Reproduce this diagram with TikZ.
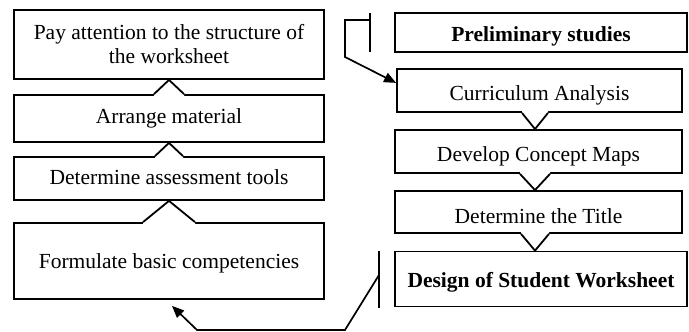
\documentclass[tikz,border=0pt]{standalone}
\usepackage{fontspec}
\setmainfont{Liberation Serif}
\usetikzlibrary{calc,arrows.meta}
\tikzset{
  bx/.style={draw, line width=1.8pt, inner sep=0pt, align=center,
    font=\fontsize{21.5}{24}\selectfont},
  bxb/.style={bx, font=\fontsize{21.5}{24}\selectfont\bfseries},
  chevline/.style={line width=1.8pt, line join=miter},
  conn/.style={line width=1.7pt, line join=miter, -{Triangle[length=12pt,width=10pt]}},
  barline/.style={line width=1.7pt}
}
\newcommand\chevron[4]{%
  \fill[white] ($(#2)+(-#3,0)$) -- (#1) -- ($(#2)+(#3,0)$) -- ++(0,#4) -- ($(#2)+(-#3,#4)$) -- cycle;
  \draw[chevline] ($(#2)+(-#3,0)$) -- (#1) -- ($(#2)+(#3,0)$);}
\begin{document}
\begin{tikzpicture}[x=1pt,y=-1pt]
\useasboundingbox (0,0) rectangle (689,332);
% left column
\node[bx, minimum width=310, minimum height=69] (b1) at (169,44.5)
  {Pay attention to the structure of\\the worksheet};
\node[bx, minimum width=310, minimum height=47, text height=14pt, text depth=5pt] (b2) at (169,118.5) {Arrange material};
\node[bx, minimum width=310, minimum height=43, text height=16pt, text depth=5pt] (b3) at (169,178.5) {Determine assessment tools};
\node[bx, minimum width=310, minimum height=76, text height=19pt, text depth=5pt] (b4) at (169,261) {Formulate basic competencies};
% right column
\node[bxb, minimum width=292, minimum height=39, text height=23.4pt, text depth=5pt] (r1) at (541,32.5) {Preliminary studies};
\node[bx, minimum width=285, minimum height=43, text height=25.4pt, text depth=5pt] (r2) at (539.5,90.5) {Curriculum Analysis};
\node[bx, minimum width=287, minimum height=43, text height=25.4pt, text depth=5pt] (r3) at (538.5,151.5) {Develop Concept Maps};
\node[bx, minimum width=287, minimum height=42, text height=27pt, text depth=5pt] (r4) at (538.5,212) {Determine the Title};
\node[bxb, minimum width=292, minimum height=55, text height=21pt, text depth=5pt] (r5) at (541,279) {Design of Student Worksheet};
% chevrons (left, pointing up)
\chevron{b1.south}{b2.north}{15}{1.8}
\chevron{b2.south}{b3.north}{14}{1.8}
\chevron{b3.south}{b4.north}{26}{1.8}
% chevrons (right, pointing down)
\coordinate (cx) at (535,0);
\coordinate (c4a) at (cx |- r3.north);
\coordinate (c4b) at (cx |- r2.south);
\coordinate (c5a) at (cx |- r4.north);
\coordinate (c5b) at (cx |- r3.south);
\coordinate (c6a) at (cx |- r5.north);
\coordinate (c6b) at (cx |- r4.south);
\chevron{c4a}{c4b}{13}{-1.8}
\chevron{c5a}{c5b}{15}{-1.8}
\chevron{c6a}{c6b}{14}{-1.8}
% top connector
\coordinate (tb1) at (370,13);
\coordinate (tb2) at (370,52);
\coordinate (t1) at (370,20);
\coordinate (t2) at (345,20);
\coordinate (t3) at (345,57);
\draw[barline] (tb1) -- (tb2);
\draw[conn] (t1) -- (t2) -- (t3) -- ($(r2.north west)!0.33!(r2.south west)$);
% bottom connector
\coordinate (bb1) at (379,251);
\coordinate (bb2) at (379,308);
\coordinate (s1) at (379,275);
\coordinate (s2) at (345,330);
\coordinate (s3) at (197,330);
\draw[barline] (bb1) -- (bb2);
\draw[conn] (s1) -- (s2) -- (s3) -- ($(b4.south)+(3,6)$);
\end{tikzpicture}
\end{document}
